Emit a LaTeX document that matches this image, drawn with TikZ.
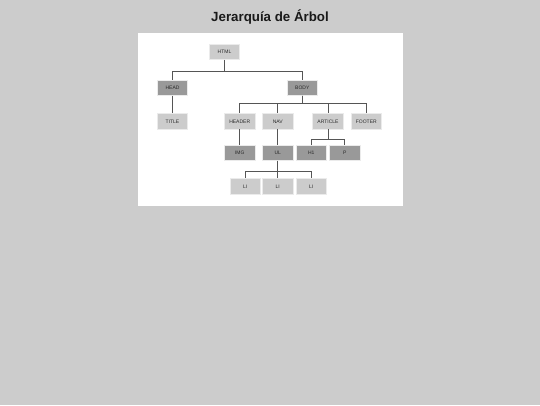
\documentclass[tikz,border=0pt]{standalone}
\usepackage{fontspec}
\setmainfont{Liberation Sans}
\definecolor{bggray}{HTML}{CCCCCC}
\definecolor{lightbox}{HTML}{CCCCCC}
\definecolor{darkbox}{HTML}{999999}
\definecolor{edgecol}{HTML}{555555}
\definecolor{boxtext}{HTML}{2A2A2A}
\begin{document}
\begin{tikzpicture}[x=1pt,y=1pt,
  tbox/.style={draw=white!92!black, line width=0.6pt, minimum width=30.5pt, minimum height=15.3pt, inner sep=0pt, font=\fontsize{5}{6}\selectfont, text=boxtext},
  lbox/.style={tbox, fill=lightbox},
  dbox/.style={tbox, fill=darkbox},
  conn/.style={draw=edgecol, line width=0.8pt}
]
\fill[bggray] (0,0) rectangle (540,405);
\useasboundingbox (0,0) rectangle (540,405);
\fill[white] (137.5,199) rectangle (403,371.7);
\node[font=\fontsize{13.3}{16}\selectfont\bfseries, text=black!90] (ttl) at (270,388.5) {Jerarquía de Árbol};

\node[lbox] (html) at (224.5,353) {HTML};
\node[dbox] (head) at (172.5,317.3) {HEAD};
\node[dbox] (body) at (302.3,317.3) {BODY};
\node[lbox] (title) at (172.5,283.7) {TITLE};
\node[lbox] (header) at (239.7,283.7) {HEADER};
\node[lbox] (nav) at (277.8,283.7) {NAV};
\node[lbox] (article) at (328,283.7) {ARTICLE};
\node[lbox] (footer) at (366.3,283.7) {FOOTER};
\node[dbox] (img) at (239.7,252) {IMG};
\node[dbox] (ul) at (277.8,252) {UL};
\node[dbox] (h1) at (311.3,252) {H1};
\node[dbox] (p) at (344.7,252) {P};
\node[lbox] (li1) at (245.2,218.7) {LI};
\node[lbox] (li2) at (277.8,218.7) {LI};
\node[lbox] (li3) at (311.2,218.7) {LI};

\draw[conn] (html.south) -- ++(0,-11.4) -| (head.north);
\draw[conn] (html.south) -- ++(0,-11.4) -| (body.north);
\draw[conn] (head.south) -- (title.north);
\foreach \c in {header,nav,article,footer}
  \draw[conn] (body.south) -- ++(0,-7.4) -| (\c.north);
\draw[conn] (header.south) -- (img.north);
\draw[conn] (nav.south) -- (ul.north);
\foreach \c in {h1,p}
  \draw[conn] (article.south) -- ++(0,-10.6) -| (\c.north);
\foreach \c in {li1,li2,li3}
  \draw[conn] (ul.south) -- ++(0,-10.3) -| (\c.north);
\end{tikzpicture}
\end{document}
